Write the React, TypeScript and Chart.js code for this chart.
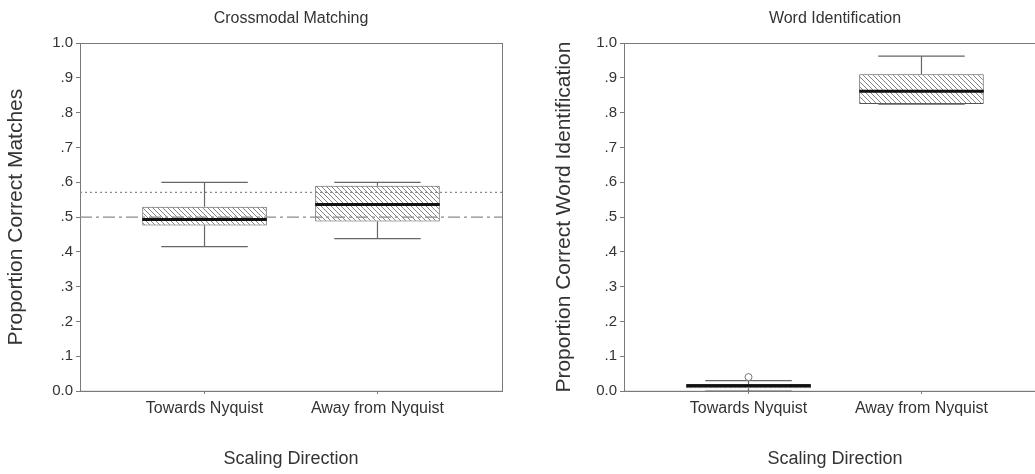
import React, { useEffect, useRef } from 'react';
import { Chart, registerables } from 'chart.js';

Chart.register(...registerables);

// Scaling-direction categories shared by both panels
const categories = ['Towards Nyquist', 'Away from Nyquist'];
const yTickLabels = ['0.0', '.1', '.2', '.3', '.4', '.5', '.6', '.7', '.8', '.9', '1.0'];

// Crossmodal Matching: five-number summaries per scaling direction
const matchMin = [0.415, 0.438];
const matchQ1 = [0.476, 0.487];
const matchMedian = [0.493, 0.536];
const matchQ3 = [0.53, 0.59];
const matchMax = [0.6, 0.6];
// reference levels drawn across the matching panel
const matchChanceLevel = 0.5;
const matchCriterionLevel = 0.571;

// Word Identification: five-number summaries per scaling direction
const wordMin = [0.0, 0.825];
const wordQ1 = [0.008, 0.825];
const wordMedian = [0.015, 0.862];
const wordQ3 = [0.02, 0.911];
const wordMax = [0.03, 0.963];
const wordOutlierIndex = [0];
const wordOutlierValue = [0.04];

const X_MIN = -0.72;
const X_MAX = 1.72;
const BOX_WIDTH = 0.72;
const CAP_WIDTH = 0.5;

const AXIS_COLOR = '#7a7a7a';
const TEXT_COLOR = '#333333';
const FONT_FAMILY = "'Liberation Sans', Arial, Helvetica, sans-serif";

type Pt = { x: number; y: number | null };

function hatchPattern(): CanvasPattern | string {
  const s = 5;
  const c = document.createElement('canvas');
  c.width = s;
  c.height = s;
  const g = c.getContext('2d');
  if (!g) return '#dddddd';
  g.fillStyle = '#ffffff';
  g.fillRect(0, 0, s, s);
  g.strokeStyle = '#858585';
  g.lineWidth = 1;
  g.beginPath();
  g.moveTo(0, 0);
  g.lineTo(s, s);
  g.moveTo(-1, s - 1);
  g.lineTo(1, s + 1);
  g.moveTo(s - 1, -1);
  g.lineTo(s + 1, 1);
  g.stroke();
  const p = g.createPattern(c, 'repeat');
  return p || '#dddddd';
}

function whiskerPoints(mins: number[], q1s: number[], q3s: number[], maxs: number[]): Pt[] {
  const pts: Pt[] = [];
  const h = CAP_WIDTH / 2;
  categories.forEach((_, i) => {
    pts.push({ x: i, y: q3s[i] }, { x: i, y: maxs[i] }, { x: i, y: null });
    pts.push({ x: i - h, y: maxs[i] }, { x: i + h, y: maxs[i] }, { x: i, y: null });
    pts.push({ x: i, y: mins[i] }, { x: i, y: q1s[i] }, { x: i, y: null });
    pts.push({ x: i - h, y: mins[i] }, { x: i + h, y: mins[i] }, { x: i, y: null });
  });
  return pts;
}

function medianPoints(medians: number[]): Pt[] {
  const pts: Pt[] = [];
  const h = BOX_WIDTH / 2;
  categories.forEach((_, i) => {
    pts.push({ x: i - h, y: medians[i] }, { x: i + h, y: medians[i] }, { x: i, y: null });
  });
  return pts;
}

const framePlugin = {
  id: 'plotFrame',
  beforeDatasetsDraw(chart: any) {
    const { ctx, chartArea } = chart;
    const { left, top, right, bottom } = chartArea;
    ctx.save();
    ctx.strokeStyle = AXIS_COLOR;
    ctx.lineWidth = 1;
    ctx.strokeRect(Math.round(left) + 0.5, Math.round(top) + 0.5, right - left, bottom - top);
    ctx.restore();
  },
};

interface PanelSpec {
  title: string;
  yTitle: string;
  mins: number[];
  q1s: number[];
  medians: number[];
  q3s: number[];
  maxs: number[];
  refLines: { value: number; dash: number[] }[];
  outliers: Pt[];
  yAxisWidth: number;
  yTitlePad: number;
  rightPad: number;
}

function buildConfig(p: PanelSpec): any {
  const datasets: any[] = [];
  datasets.push({
    type: 'bar',
    data: categories.map((_, i) => ({ x: i, y: [p.q1s[i], p.q3s[i]] })),
    backgroundColor: hatchPattern(),
    borderColor: '#555555',
    borderWidth: 1,
    borderSkipped: false,
    categoryPercentage: BOX_WIDTH,
    barPercentage: 1,
    order: 5,
  });
  p.refLines.forEach((r) => {
    datasets.push({
      type: 'line',
      data: [
        { x: X_MIN, y: r.value },
        { x: X_MAX, y: r.value },
      ],
      borderColor: '#8a8a8a',
      borderWidth: 1.2,
      borderDash: r.dash,
      pointRadius: 0,
      order: 3,
    });
  });
  datasets.push({
    type: 'line',
    data: whiskerPoints(p.mins, p.q1s, p.q3s, p.maxs),
    borderColor: '#666666',
    borderWidth: 1.2,
    pointRadius: 0,
    spanGaps: false,
    order: 2,
  });
  datasets.push({
    type: 'line',
    data: medianPoints(p.medians),
    borderColor: '#111111',
    borderWidth: 3,
    pointRadius: 0,
    spanGaps: false,
    order: 1,
  });
  if (p.outliers.length) {
    datasets.push({
      type: 'line',
      data: p.outliers,
      showLine: false,
      pointRadius: 3.5,
      pointBackgroundColor: '#ffffff',
      pointBorderColor: '#777777',
      pointBorderWidth: 1,
      order: 0,
    });
  }

  return {
    type: 'bar',
    data: { datasets },
    options: {
      responsive: false,
      animation: false,
      devicePixelRatio: 1,
      layout: { padding: { left: 0, right: p.rightPad, top: 0, bottom: 0 } },
      plugins: {
        legend: { display: false },
        tooltip: { enabled: false },
        title: {
          display: true,
          text: p.title,
          fullSize: false,
          color: TEXT_COLOR,
          font: { size: 16, weight: 'normal', family: FONT_FAMILY },
          padding: { top: 9, bottom: 15 },
        },
      },
      scales: {
        x: {
          type: 'linear',
          min: X_MIN,
          max: X_MAX,
          offset: false,
          afterBuildTicks: (s: any) => {
            s.ticks = categories.map((_, i) => ({ value: i }));
          },
          afterFit: (s: any) => {
            s.height = 83;
          },
          ticks: {
            callback: (v: number) => categories[Math.round(v)] ?? '',
            color: TEXT_COLOR,
            font: { size: 16, family: FONT_FAMILY },
            padding: 5,
            maxRotation: 0,
            autoSkip: false,
          },
          grid: { drawOnChartArea: false, drawTicks: true, tickLength: 3, color: AXIS_COLOR, offset: false },
          border: { display: true, color: AXIS_COLOR, width: 1 },
          title: {
            display: true,
            text: 'Scaling Direction',
            color: TEXT_COLOR,
            font: { size: 18, family: FONT_FAMILY },
            padding: { top: 0, bottom: 4 },
          },
        },
        y: {
          type: 'linear',
          min: 0,
          max: 1,
          afterFit: (s: any) => {
            s.width = p.yAxisWidth;
          },
          ticks: {
            stepSize: 0.1,
            callback: (v: number) => yTickLabels[Math.round(v * 10)] ?? '',
            color: TEXT_COLOR,
            font: { size: 15, family: FONT_FAMILY },
            padding: 3,
          },
          grid: { drawOnChartArea: false, drawTicks: true, tickLength: 4, color: AXIS_COLOR },
          border: { display: true, color: AXIS_COLOR, width: 1 },
          title: {
            display: true,
            text: p.yTitle,
            color: TEXT_COLOR,
            font: { size: 21, family: FONT_FAMILY },
            padding: { top: p.yTitlePad, bottom: 0 },
          },
        },
      },
    },
    plugins: [framePlugin],
  };
}

export default function App() {
  const leftRef = useRef<HTMLCanvasElement | null>(null);
  const rightRef = useRef<HTMLCanvasElement | null>(null);

  useEffect(() => {
    Chart.defaults.font.family = FONT_FAMILY;
    const charts: Chart[] = [];
    if (leftRef.current) {
      charts.push(
        new Chart(
          leftRef.current,
          buildConfig({
            title: 'Crossmodal Matching',
            yTitle: 'Proportion Correct Matches',
            mins: matchMin,
            q1s: matchQ1,
            medians: matchMedian,
            q3s: matchQ3,
            maxs: matchMax,
            refLines: [
              { value: matchCriterionLevel, dash: [2, 3] },
              { value: matchChanceLevel, dash: [12, 4, 3, 4] },
            ],
            outliers: [],
            yAxisWidth: 80,
            yTitlePad: 4,
            rightPad: 16,
          })
        )
      );
    }
    if (rightRef.current) {
      charts.push(
        new Chart(
          rightRef.current,
          buildConfig({
            title: 'Word Identification',
            yTitle: 'Proportion Correct Word Identification',
            mins: wordMin,
            q1s: wordQ1,
            medians: wordMedian,
            q3s: wordQ3,
            maxs: wordMax,
            refLines: [],
            outliers: wordOutlierIndex.map((idx, k) => ({ x: idx, y: wordOutlierValue[k] })),
            yAxisWidth: 106,
            yTitlePad: 34,
            rightPad: 12,
          })
        )
      );
    }
    return () => {
      charts.forEach((c) => c.destroy());
    };
  }, []);

  return (
    <div
      style={{
        position: 'absolute',
        left: 0,
        top: 0,
        width: 1035,
        height: 474,
        overflow: 'hidden',
        background: '#ffffff',
      }}
    >
      <canvas ref={leftRef} width={518} height={474} style={{ position: 'absolute', left: 0, top: 0 }} />
      <canvas ref={rightRef} width={540} height={474} style={{ position: 'absolute', left: 518, top: 0 }} />
    </div>
  );
}
